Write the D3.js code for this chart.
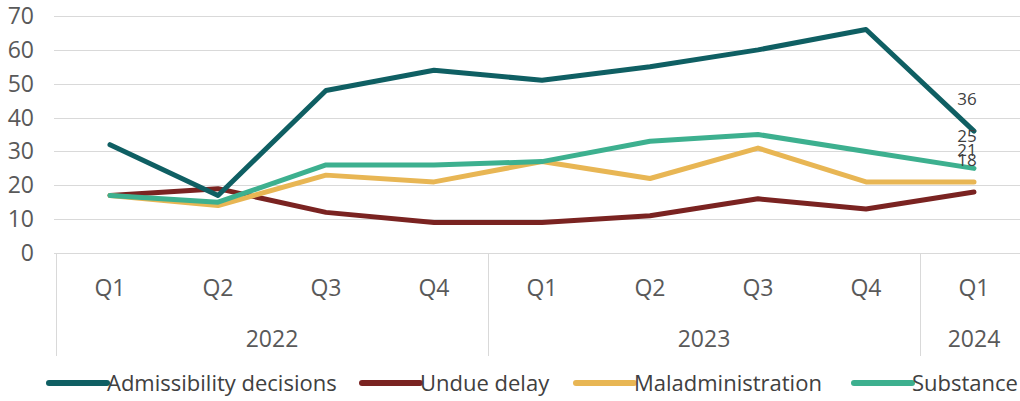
<!DOCTYPE html>
<html>
<head>
  <script src="https://d3js.org/d3.v7.min.js"></script>
  <style>
    body { margin: 0; background: #fff; font-family: "Open Sans", sans-serif; }
    .grid line { stroke: #d9d9d9; stroke-width: 1; }
    .ytick { fill: #595959; font-size: 23px; text-anchor: end; }
    .xtick { fill: #595959; font-size: 23px; text-anchor: middle; }
    .sep { stroke: #d9d9d9; stroke-width: 1; }
    .series { fill: none; stroke-width: 5; stroke-linejoin: round; stroke-linecap: round; }
    .end-label { fill: #404040; font-size: 17px; text-anchor: middle; }
    .legend text { fill: #404040; font-size: 22px; }
  </style>
</head>
<body>
  <div id="chart"></div>
  <script>
    const quarters = ["Q1", "Q2", "Q3", "Q4", "Q1", "Q2", "Q3", "Q4", "Q1"];
    const years = ["2022", "2022", "2022", "2022", "2023", "2023", "2023", "2023", "2024"];
    const yTicks = [0, 10, 20, 30, 40, 50, 60, 70];

    const seriesNames = ["Admissibility decisions", "Undue delay", "Maladministration", "Substance"];
    const seriesColors = ["#0f5f63", "#7a2321", "#e8b654", "#3db08f"];
    const admissibility = [32, 17, 48, 54, 51, 55, 60, 66, 36];
    const undueDelay = [17, 19, 12, 9, 9, 11, 16, 13, 18];
    const maladministration = [17, 14, 23, 21, 27, 22, 31, 21, 21];
    const substance = [17, 15, 26, 26, 27, 33, 35, 30, 25];

    const width = 1020, height = 401;
    const svg = d3.select("#chart").append("svg")
      .attr("width", width)
      .attr("height", height);

    const idx = d3.range(quarters.length);
    const x = d3.scalePoint().domain(idx).range([56, 1028]).padding(0.5);
    const step = x.step();
    const y = d3.scaleLinear().domain([0, 70]).range([253, 16]);

    // gridlines
    svg.append("g").attr("class", "grid")
      .selectAll("line")
      .data(yTicks)
      .join("line")
        .attr("x1", 54)
        .attr("x2", width)
        .attr("y1", d => Math.round(y(d)) + 0.5)
        .attr("y2", d => Math.round(y(d)) + 0.5);

    svg.selectAll(".ytick")
      .data(yTicks)
      .join("text")
        .attr("class", "ytick")
        .attr("x", 34)
        .attr("y", d => y(d))
        .attr("dy", "0.35em")
        .text(d => d);

    // category axis: quarter labels and year groups
    svg.selectAll(".xtick.q")
      .data(idx)
      .join("text")
        .attr("class", "xtick q")
        .attr("x", i => x(i))
        .attr("y", 288)
        .attr("dy", "0.35em")
        .text(i => quarters[i]);

    const groups = d3.groups(idx, i => years[i]);
    const x0 = x(0) - step / 2;
    const sepX = [x0].concat(groups.map(g => x(g[1][g[1].length - 1]) + step / 2));
    svg.selectAll(".sep")
      .data(sepX.filter(v => v < width))
      .join("line")
        .attr("class", "sep")
        .attr("x1", d => Math.round(d) + 0.5)
        .attr("x2", d => Math.round(d) + 0.5)
        .attr("y1", y(0))
        .attr("y2", 356);

    svg.selectAll(".xtick.y")
      .data(groups)
      .join("text")
        .attr("class", "xtick y")
        .attr("x", g => (x(g[1][0]) + x(g[1][g[1].length - 1])) / 2)
        .attr("y", 339)
        .attr("dy", "0.35em")
        .text(g => g[0]);

    // lines
    const allSeries = [admissibility, undueDelay, maladministration, substance];
    const line = d3.line().x((d, i) => x(i)).y(d => y(d));
    const drawOrder = [1, 2, 3, 0];
    svg.selectAll(".series")
      .data(drawOrder)
      .join("path")
        .attr("class", "series")
        .attr("stroke", k => seriesColors[k])
        .attr("d", k => line(allSeries[k]));

    // end labels (Excel stacks them above the last points)
    const last = quarters.length - 1;
    svg.selectAll(".end-label")
      .data(allSeries)
      .join("text")
        .attr("class", "end-label")
        .attr("x", x(last) - 7)
        .attr("y", s => y(s[last]) - 32)
        .attr("dy", "0.35em")
        .text(s => s[last]);

    // legend
    const legendTextX = [107, 420, 634, 912];
    const lg = svg.append("g").attr("class", "legend");
    seriesNames.forEach((name, k) => {
      const g = lg.append("g").attr("transform", `translate(${legendTextX[k]},383)`);
      g.append("line")
        .attr("x1", -58).attr("x2", 0)
        .attr("stroke", seriesColors[k])
        .attr("stroke-width", 6)
        .attr("stroke-linecap", "round");
      g.append("text")
        .attr("x", 0)
        .attr("dy", "0.35em")
        .text(name);
    });
  </script>
</body>
</html>
